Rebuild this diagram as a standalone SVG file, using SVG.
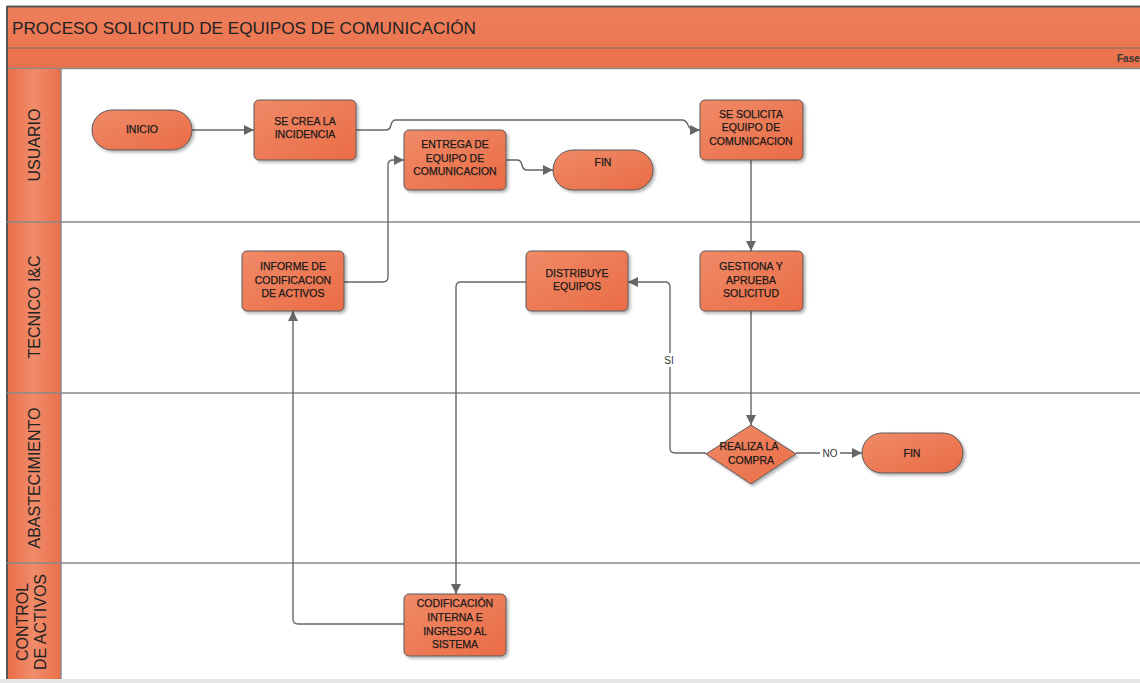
<svg xmlns="http://www.w3.org/2000/svg" width="1140" height="683" viewBox="0 0 1140 683">
<defs>
<linearGradient id="og" x1="0" y1="0" x2="1" y2="1">
<stop offset="0" stop-color="#F08A68"/><stop offset="1" stop-color="#EA6C45"/>
</linearGradient>
<linearGradient id="bar" x1="0" y1="0" x2="0" y2="1">
<stop offset="0" stop-color="#EE7F5C"/><stop offset="1" stop-color="#EA704B"/>
</linearGradient>
<linearGradient id="lane" x1="0" y1="0" x2="1" y2="0">
<stop offset="0" stop-color="#EA6E48"/><stop offset="0.5" stop-color="#F08C6B"/><stop offset="1" stop-color="#EA6E48"/>
</linearGradient>
<filter id="sh" x="-10%" y="-10%" width="130%" height="130%">
<feDropShadow dx="2" dy="2" stdDeviation="1.5" flood-color="#000" flood-opacity="0.3"/>
</filter>
<marker id="arr" viewBox="0 0 10 10" refX="10" refY="5" markerWidth="10" markerHeight="10" markerUnits="userSpaceOnUse" orient="auto">
<path d="M0,0 L10,5 L0,10 z" fill="#666"/>
</marker>
<style>
.node{fill:url(#og);stroke:#5a5a5a;stroke-width:1;filter:url(#sh)}
.t{font-family:"Liberation Sans",Arial,sans-serif;font-size:10.5px;fill:#1a1a1a;stroke:#1a1a1a;stroke-width:0.25;text-anchor:middle}
.c{fill:none;stroke:#666;stroke-width:1.4;marker-end:url(#arr)}
.lanel{font-family:"Liberation Sans",Arial,sans-serif;font-size:16px;fill:#222;text-anchor:middle}
.div{stroke:#8a8a8a;stroke-width:1.5}
</style>
</defs>
<rect x="0" y="0" width="1140" height="683" fill="#fff"/>
<!-- frame -->
<rect x="7" y="7" width="1140" height="62" fill="url(#bar)"/>
<line x1="7" y1="48" x2="1140" y2="48" stroke="#7a6a64" stroke-width="1.2"/>
<line x1="7" y1="68.5" x2="1140" y2="68.5" stroke="#8a8a8a" stroke-width="1.5"/>
<line x1="7" y1="6.5" x2="1140" y2="6.5" stroke="#555" stroke-width="2"/>
<text x="12" y="34" font-family="Liberation Sans,Arial,sans-serif" font-size="17" fill="#222" textLength="464" lengthAdjust="spacingAndGlyphs">PROCESO SOLICITUD DE EQUIPOS DE COMUNICACIÓN</text>
<text x="1117" y="62" font-family="Liberation Sans,Arial,sans-serif" font-size="10" font-weight="bold" fill="#333">Fase</text>
<!-- lane header column -->
<rect x="7" y="69" width="54" height="611" fill="url(#lane)"/>
<line x1="61" y1="69" x2="61" y2="680" stroke="#8a8a8a" stroke-width="1.5"/>
<line x1="7" y1="6" x2="7" y2="680" stroke="#555" stroke-width="2"/>
<line class="div" x1="7" y1="222" x2="1140" y2="222"/>
<line class="div" x1="7" y1="393" x2="1140" y2="393"/>
<line class="div" x1="7" y1="563" x2="1140" y2="563"/>
<rect x="0" y="679" width="1140" height="4" fill="#e6e6e6"/>
<text class="lanel" transform="translate(40,145) rotate(-90)">USUARIO</text>
<text class="lanel" transform="translate(40,307) rotate(-90)">TECNICO I&amp;C</text>
<text class="lanel" transform="translate(40,478) rotate(-90)">ABASTECIMIENTO</text>
<text class="lanel" transform="translate(28,622) rotate(-90)">CONTROL</text>
<text class="lanel" transform="translate(46,622) rotate(-90)">DE ACTIVOS</text>
<!-- connectors -->
<g id="connectors">
<path class="c" d="M192,130 H254"/>
<path class="c" d="M356,130 H386 Q390,130 391,125 Q392,120 396,120 H682 Q686,120 688,125 Q690,130 694,130 H700"/>
<path class="c" d="M506,160 H517 Q521,160 522,165 Q523,170 527,170 H553"/>
<path class="c" d="M751,160 V251"/>
<path class="c" d="M344,282 H383 Q388,282 388,277 V165 Q388,160 393,160 H404"/>
<path class="c" d="M751,311 V425"/>
<path class="c" d="M796,453 H862"/>
<rect x="820" y="446" width="20" height="13" fill="#fff"/>
<text x="830" y="457" font-family="Liberation Sans,Arial,sans-serif" font-size="10" fill="#333" text-anchor="middle">NO</text>
<path class="c" d="M706,453 H675 Q670,453 670,448 V287 Q670,282 665,282 H628"/>
<rect x="662" y="353" width="15" height="14" fill="#fff"/>
<text x="669" y="364" font-family="Liberation Sans,Arial,sans-serif" font-size="10" fill="#333" text-anchor="middle">SI</text>
<path class="c" d="M526,282 H461 Q456,282 456,287 V594"/>
<path class="c" d="M404,624 H298 Q293,624 293,619 V311"/>
</g>
<!-- nodes -->
<g id="inicio"><rect class="node" x="92" y="110" width="100" height="40" rx="20"/><text class="t" x="142" y="133">INICIO</text></g>
<g id="se-crea"><rect class="node" x="254" y="100" width="102" height="60" rx="5"/><text class="t" x="305" y="125">SE CREA LA</text><text class="t" x="305" y="138">INCIDENCIA</text></g>
<g id="se-solicita"><rect class="node" x="700" y="100" width="103" height="60" rx="5"/><text class="t" x="751" y="118">SE SOLICITA</text><text class="t" x="751" y="131">EQUIPO DE</text><text class="t" x="751" y="145">COMUNICACION</text></g>
<g id="entrega"><rect class="node" x="404" y="130" width="102" height="60" rx="5"/><text class="t" x="455" y="148">ENTREGA DE</text><text class="t" x="455" y="162">EQUIPO DE</text><text class="t" x="455" y="175">COMUNICACION</text></g>
<g id="fin1"><rect class="node" x="553" y="150" width="100" height="40" rx="20"/><text class="t" x="603" y="166">FIN</text></g>
<g id="informe"><rect class="node" x="242" y="251" width="102" height="60" rx="5"/><text class="t" x="293" y="270">INFORME DE</text><text class="t" x="293" y="284">CODIFICACION</text><text class="t" x="293" y="297">DE ACTIVOS</text></g>
<g id="distribuye"><rect class="node" x="526" y="251" width="102" height="60" rx="5"/><text class="t" x="577" y="277">DISTRIBUYE</text><text class="t" x="577" y="290">EQUIPOS</text></g>
<g id="gestiona"><rect class="node" x="700" y="251" width="103" height="60" rx="5"/><text class="t" x="751" y="270">GESTIONA Y</text><text class="t" x="751" y="284">APRUEBA</text><text class="t" x="751" y="297">SOLICITUD</text></g>
<g id="realiza"><path class="node" d="M751,425 L796,454 L751,484 L706,454 Z" stroke-linejoin="round"/><text class="t" x="749" y="450">REALIZA LA</text><text class="t" x="751" y="464">COMPRA</text></g>
<g id="fin2"><rect class="node" x="862" y="433" width="101" height="40" rx="20"/><text class="t" x="912" y="457">FIN</text></g>
<g id="codificacion"><rect class="node" x="404" y="594" width="102" height="62" rx="5"/><text class="t" x="455" y="607">CODIFICACIÓN</text><text class="t" x="455" y="621">INTERNA E</text><text class="t" x="455" y="635">INGRESO AL</text><text class="t" x="455" y="648">SISTEMA</text></g>
</svg>
